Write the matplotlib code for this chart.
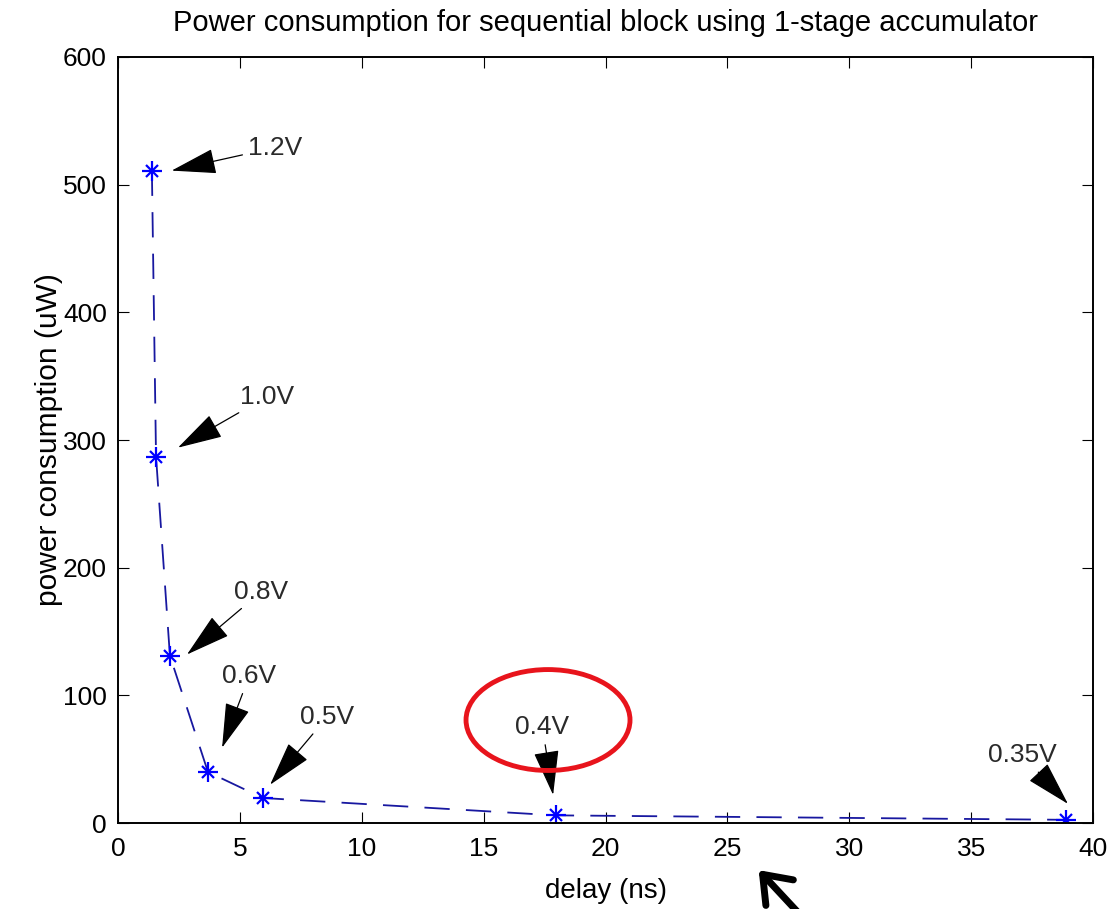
import matplotlib
matplotlib.use("Agg")
import matplotlib.pyplot as plt
from matplotlib.patches import Ellipse

# delay (ns) vs power (uW) for each supply voltage
delay_ns = [1.39, 1.56, 2.13, 3.69, 5.94, 17.95, 38.9]
power_uw = [511, 287, 131, 40, 19.6, 6.0, 2.5]
voltages = ['1.2V', '1.0V', '0.8V', '0.6V', '0.5V', '0.4V', '0.35V']

# annotation text anchors (left, centre) and arrow tips, data coords
text_xy = [(5.33, 529), (5.0, 334), (4.76, 181), (4.27, 115), (7.47, 83), (16.3, 75), (35.7, 53)]
tip_xy = [(2.2, 511), (2.46, 294), (2.83, 132), (4.27, 59), (6.24, 30), (17.85, 22), (38.97, 15)]

plt.rcParams['font.family'] = ['Liberation Sans', 'DejaVu Sans']

fig = plt.figure(figsize=(11.08, 9.09), dpi=100)
ax = fig.add_axes([0.1065, 0.0946, 0.88, 0.8427])

ax.plot(delay_ns, power_uw, color='#1818a0', linestyle=(0, (14, 9)), lw=1.3)
# matlab style asterisk marker = plus + cross
ax.plot(delay_ns, power_uw, ls='none', marker='+', markersize=14, mew=1.6, color='#0000ff')
ax.plot(delay_ns, power_uw, ls='none', marker='x', markersize=9, mew=1.6, color='#0000ff')

for label, (tx, ty), (px, py) in zip(voltages, text_xy, tip_xy):
    ax.annotate(label, xy=(px, py), xytext=(tx, ty), fontsize=19, color='#2a2a2a',
                ha='left', va='center',
                arrowprops=dict(arrowstyle='-|>,head_length=1.6,head_width=0.45',
                                color='black', lw=0.9, shrinkA=2, shrinkB=0,
                                mutation_scale=18))

ax.set_xlim(0, 40)
ax.set_ylim(0, 600)
ax.set_xticks(range(0, 41, 5))
ax.set_yticks(range(0, 601, 100))
ax.tick_params(direction='in', length=8, top=True, right=True, labelsize=19)
ax.tick_params(axis='x', pad=10)
ax.tick_params(axis='y', pad=8)
for s in ax.spines.values():
    s.set_linewidth(1.4)

ax.set_xlabel('delay (ns)', fontsize=20, labelpad=12)
ax.set_ylabel('power consumption (uW)', fontsize=21.5, labelpad=0)
ax.set_title('Power consumption for sequential block using 1-stage accumulator',
             fontsize=21, pad=19)

# red highlight ellipse and big arrow drawn over the figure
fig.patches.append(Ellipse((0.4946, 0.2079), 0.148, 0.111, transform=fig.transFigure,
                           fill=False, edgecolor='#e8141c', lw=3.5))
fig.add_artist(plt.Annotation('', xy=(0.683, 0.045), xytext=(0.725, -0.01),
                              xycoords='figure fraction', textcoords='figure fraction',
                              arrowprops=dict(arrowstyle='->,head_length=0.6,head_width=0.45',
                                              color='black', lw=5, mutation_scale=30)))

fig.savefig('out.png', dpi=100)
